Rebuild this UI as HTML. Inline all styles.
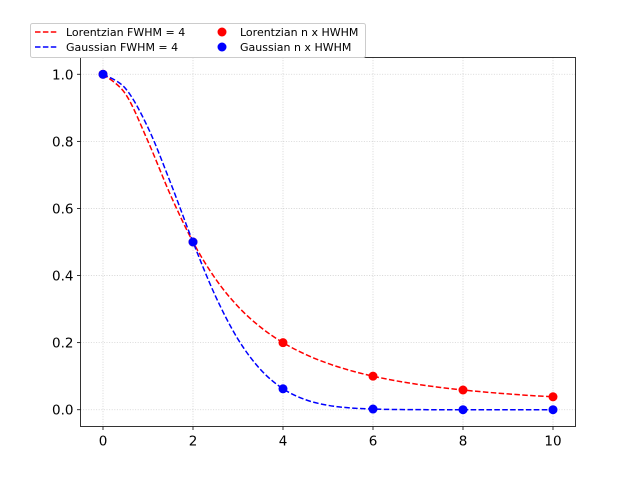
<!DOCTYPE html>
<html><head><meta charset="utf-8"><style>
body{margin:0;background:#fff}
svg{display:block;font-family:"DejaVu Sans","Liberation Sans",sans-serif}
</style></head><body>
<svg id="chart" width="640" height="480" xmlns="http://www.w3.org/2000/svg">
<rect width="640" height="480" fill="#fff"/>
<g id="grid"></g><g id="series"></g><g id="axes"></g>
<g>
<rect x="30.5" y="23.5" width="335" height="34" fill="#fff" fill-opacity="0.8" stroke="#ccc" rx="2"/>
<line x1="35" y1="32" x2="58" y2="32" stroke="red" stroke-width="1.5" stroke-dasharray="5.5,2.4"/>
<text x="66" y="36" font-size="11">Lorentzian FWHM = 4</text>
<line x1="35" y1="47" x2="58" y2="47" stroke="blue" stroke-width="1.5" stroke-dasharray="5.5,2.4"/>
<text x="66" y="51" font-size="11">Gaussian FWHM = 4</text>
<circle cx="222" cy="32" r="4.5" fill="red"/>
<text x="240" y="36" font-size="11">Lorentzian n x HWHM</text>
<circle cx="222" cy="47" r="4.5" fill="blue"/>
<text x="240" y="51" font-size="11">Gaussian n x HWHM</text>
</g>
</svg>
<script>
const curveX=[0,0.5,1,1.5,2,2.5,3,3.5,4,4.5,5,5.5,6,6.5,7,7.5,8,8.5,9,9.5,10];
const lorentzCurve=[1,0.9412,0.8,0.64,0.5,0.3902,0.3077,0.2462,0.2,0.1649,0.1379,0.1168,0.1,0.0865,0.0755,0.0664,0.0588,0.0525,0.0471,0.0424,0.0385];
const gaussCurve=[1,0.9576,0.8409,0.6768,0.5,0.3385,0.2102,0.1199,0.0625,0.0299,0.0131,0.0053,0.002,0.0007,0.0002,0.00005,0,0,0,0,0];
const pointX=[0,2,4,6,8,10];
const lorentzPoints=[1,0.5,0.2,0.1,0.0588,0.0385];
const gaussPoints=[1,0.5,0.0625,0.002,0,0];
const xTicks=[0,2,4,6,8,10];
const yTicks=[0.0,0.2,0.4,0.6,0.8,1.0];
const L=80.5,R=575.5,T=57.5,B=426.5,x0=-0.5,x1=10.5,y0=-0.05,y1=1.05;
const sx=v=>L+(v-x0)/(x1-x0)*(R-L), sy=v=>B-(v-y0)/(y1-y0)*(B-T);
const NS='http://www.w3.org/2000/svg';
function mk(t,a,p){const e=document.createElementNS(NS,t);for(const k in a)e.setAttribute(k,a[k]);p.appendChild(e);return e;}
const grid=document.getElementById('grid'),ser=document.getElementById('series'),ax=document.getElementById('axes');
xTicks.forEach(t=>{const x=sx(t);
 const g=mk('line',{x1:x,y1:T,x2:x,y2:B,stroke:'#b0b0b0','stroke-width':0.8,'stroke-dasharray':'1,1.6','stroke-opacity':0.6},grid);
 
 mk('line',{x1:x,y1:B,x2:x,y2:B+3.5,stroke:'#000','stroke-width':0.8},ax);
 const l=mk('text',{x:x,y:B+19,'font-size':13.5,'text-anchor':'middle'},ax);l.textContent=t;
 });
yTicks.forEach(t=>{const y=sy(t);
 const g=mk('line',{x1:L,y1:y,x2:R,y2:y,stroke:'#b0b0b0','stroke-width':0.8,'stroke-dasharray':'1,1.6','stroke-opacity':0.6},grid);
 
 mk('line',{x1:L-3.5,y1:y,x2:L,y2:y,stroke:'#000','stroke-width':0.8},ax);
 const l=mk('text',{x:L-7,y:y+5,'font-size':13.5,'text-anchor':'end'},ax);l.textContent=t.toFixed(1);
 });
const fr=mk('rect',{x:L,y:T,width:R-L,height:B-T,fill:'none',stroke:'#000','stroke-width':0.8},ax);

function spline(xs,ys){const p=xs.map((x,i)=>[sx(x),sy(ys[i])]);let d='M'+p[0][0]+','+p[0][1];
 for(let i=0;i<p.length-1;i++){const a=p[Math.max(0,i-1)],b=p[i],c=p[i+1],e=p[Math.min(p.length-1,i+2)];
  d+=' C'+(b[0]+(c[0]-a[0])/6)+','+(b[1]+(c[1]-a[1])/6)+' '+(c[0]-(e[0]-b[0])/6)+','+(c[1]-(e[1]-b[1])/6)+' '+c[0]+','+c[1];}
 return d;}
const lc=mk('path',{d:spline(curveX,lorentzCurve),fill:'none',stroke:'red','stroke-width':1.5,'stroke-dasharray':'5.5,2.4'},ser);

const gc=mk('path',{d:spline(curveX,gaussCurve),fill:'none',stroke:'blue','stroke-width':1.5,'stroke-dasharray':'5.5,2.4'},ser);

pointX.forEach((x,i)=>{const c=mk('circle',{cx:sx(x),cy:sy(lorentzPoints[i]),r:4.5,fill:'red'},ser);
 });
pointX.forEach((x,i)=>{const c=mk('circle',{cx:sx(x),cy:sy(gaussPoints[i]),r:4.5,fill:'blue'},ser);
 });
</script>
</body></html>
